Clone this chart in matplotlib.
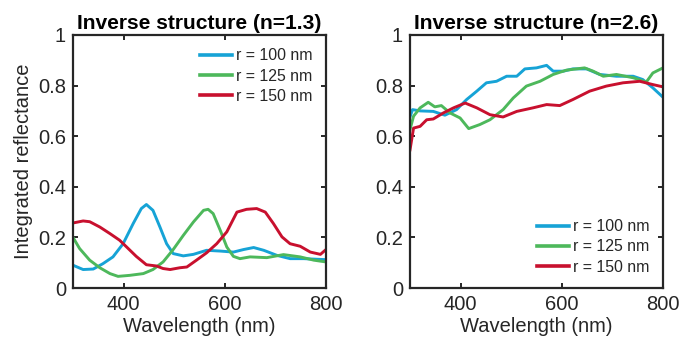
import numpy as np
import matplotlib
matplotlib.use('Agg')
import matplotlib.pyplot as plt

# ── data ─────────────────────────────────────────────────────────────────────
labels = ['r = 100 nm', 'r = 125 nm', 'r = 150 nm']
colors = ['#16A3D6', '#4DB85B', '#C8102E']

# n = 1.3
wl_a_100 = [300, 320, 340, 359, 379, 399, 419, 435, 445, 458, 472, 485, 498, 518,
            538, 564, 591, 617, 637, 657, 677, 703, 729, 756, 800]
r_a_100 = [0.090, 0.073, 0.075, 0.096, 0.123, 0.175, 0.255, 0.314, 0.330, 0.307,
           0.240, 0.175, 0.136, 0.127, 0.133, 0.149, 0.146, 0.142, 0.152, 0.160,
           0.149, 0.129, 0.116, 0.116, 0.112]
wl_a_125 = [300, 313, 333, 353, 373, 389, 412, 439, 458, 478, 498, 518, 538, 558,
            567, 577, 591, 604, 617, 630, 650, 683, 716, 749, 776, 800]
r_a_125 = [0.200, 0.156, 0.110, 0.080, 0.057, 0.046, 0.050, 0.057, 0.073, 0.103,
           0.152, 0.208, 0.261, 0.307, 0.311, 0.294, 0.228, 0.162, 0.125, 0.116,
           0.123, 0.120, 0.132, 0.123, 0.110, 0.103]
wl_a_150 = [300, 320, 333, 353, 373, 392, 406, 425, 445, 465, 478, 492, 511, 525,
            544, 564, 584, 604, 624, 643, 663, 680, 696, 713, 729, 749, 769, 789, 800]
r_a_150 = [0.257, 0.265, 0.262, 0.241, 0.215, 0.189, 0.162, 0.125, 0.092, 0.087,
           0.077, 0.073, 0.080, 0.083, 0.110, 0.139, 0.175, 0.222, 0.300, 0.311,
           0.314, 0.300, 0.255, 0.202, 0.175, 0.165, 0.142, 0.133, 0.152]

# n = 2.6
wl_b_100 = [300, 305, 320, 346, 369, 392, 412, 432, 451, 471, 491, 511, 527, 550,
            570, 583, 603, 622, 649, 675, 708, 741, 760, 780, 800]
r_b_100 = [0.676, 0.705, 0.700, 0.698, 0.683, 0.705, 0.745, 0.778, 0.811, 0.817,
           0.837, 0.837, 0.866, 0.870, 0.880, 0.857, 0.857, 0.866, 0.866, 0.844,
           0.837, 0.837, 0.824, 0.791, 0.754]
wl_b_125 = [300, 307, 320, 336, 349, 362, 379, 399, 416, 438, 458, 484, 504, 530,
            557, 583, 609, 645, 662, 682, 708, 741, 767, 780, 800]
r_b_125 = [0.626, 0.679, 0.712, 0.734, 0.716, 0.721, 0.692, 0.672, 0.630, 0.646,
           0.665, 0.705, 0.751, 0.798, 0.817, 0.844, 0.861, 0.870, 0.857, 0.837,
           0.844, 0.831, 0.814, 0.850, 0.870]
wl_b_150 = [300, 307, 320, 333, 346, 366, 386, 409, 432, 458, 484, 511, 543, 570,
            596, 622, 655, 688, 721, 754, 780, 800]
r_b_150 = [0.546, 0.632, 0.639, 0.665, 0.668, 0.692, 0.712, 0.731, 0.712, 0.685,
           0.676, 0.698, 0.712, 0.725, 0.721, 0.745, 0.778, 0.798, 0.811, 0.817,
           0.804, 0.795]

panels = [
    ('Inverse structure (n=1.3)',
     [(wl_a_100, r_a_100), (wl_a_125, r_a_125), (wl_a_150, r_a_150)], 'upper right'),
    ('Inverse structure (n=2.6)',
     [(wl_b_100, r_b_100), (wl_b_125, r_b_125), (wl_b_150, r_b_150)], 'lower right'),
]

plt.rcParams['font.family'] = ['Liberation Sans', 'DejaVu Sans']
ink = '#262626'

fig = plt.figure(figsize=(6.83, 3.52), dpi=100)
axes = [fig.add_axes([0.1069, 0.1818, 0.3704, 0.7188]),
        fig.add_axes([0.6003, 0.1818, 0.3704, 0.7188])]

for ax, (title, series, loc) in zip(axes, panels):
    for (wl, r), c, lab in zip(series, colors, labels):
        ax.plot(wl, r, color=c, lw=2.1, label=lab)
    ax.set_xlim(300, 800)
    ax.set_ylim(0, 1)
    ax.set_xticks([400, 600, 800])
    ax.set_yticks([0, 0.2, 0.4, 0.6, 0.8, 1])
    ax.set_yticklabels(['0', '0.2', '0.4', '0.6', '0.8', '1'])
    ax.tick_params(direction='in', top=True, right=True, length=3.5, width=1.4,
                   color=ink, labelcolor=ink, labelsize=14.5, pad=5)
    for s in ax.spines.values():
        s.set_linewidth(1.6)
        s.set_color(ink)
    ax.set_xlabel('Wavelength (nm)', fontsize=14.5, color=ink, labelpad=2)
    ax.set_title(title, fontsize=15.1, fontweight='bold', color='black', pad=4)
    leg = ax.legend(loc=loc, frameon=False, fontsize=11.4, handlelength=2.0,
                    handletextpad=0.25, labelspacing=0.32, borderaxespad=0.45)
    for t in leg.get_texts():
        t.set_color(ink)
    for h in leg.get_lines():
        h.set_linewidth(2.6)

axes[0].set_ylabel('Integrated reflectance', fontsize=14.5, color=ink, labelpad=4)

fig.savefig('out.png', dpi=100)
